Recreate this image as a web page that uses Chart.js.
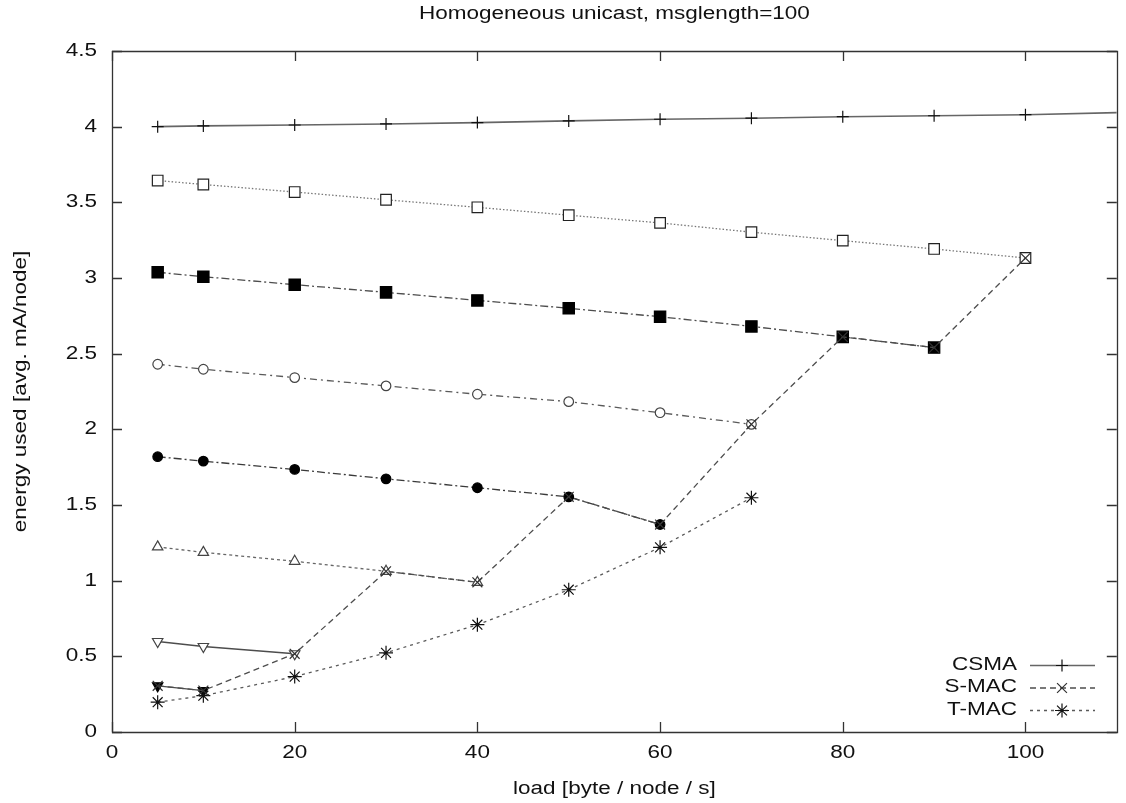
<!DOCTYPE html>
<html>
<head>
<meta charset="utf-8">
<script src="https://cdn.jsdelivr.net/npm/chart.js@4"></script>
<style>
  html, body { margin: 0; padding: 0; background: #fff; }
  #wrap { width: 1126px; height: 803px; }
</style>
</head>
<body>
<div id="wrap"><canvas id="c" width="1126" height="803"></canvas></div>
<script>
// ---- data ----
const chartTitle = 'Homogeneous unicast, msglength=100';
const xTitle = 'load [byte / node / s]';
const yTitle = 'energy used [avg. mA/node]';
const xTicks = [0, 20, 40, 60, 80, 100];
const yTicks = [0, 0.5, 1, 1.5, 2, 2.5, 3, 3.5, 4, 4.5];

const loads = [5, 10, 20, 30, 40, 50, 60, 70, 80, 90, 100];
const csmaLoads = [5, 10, 20, 30, 40, 50, 60, 70, 80, 90, 100, 110];
const csma = [4.000, 4.005, 4.011, 4.018, 4.027, 4.038, 4.049, 4.056, 4.066, 4.072, 4.079, 4.093];
const smac = [0.305, 0.274, 0.517, 1.062, 0.989, 1.554, 1.371, 2.033, 2.611, 2.540, 3.132];
const tmac = [0.197, 0.240, 0.366, 0.523, 0.709, 0.940, 1.220, 1.548];
const openSquares = [3.644, 3.618, 3.568, 3.517, 3.467, 3.415, 3.364, 3.303, 3.247, 3.192, 3.132];
const filledSquares = [3.038, 3.009, 2.956, 2.905, 2.852, 2.800, 2.744, 2.680, 2.611, 2.540];
const openCircles = [2.430, 2.397, 2.342, 2.287, 2.232, 2.183, 2.110, 2.033];
const filledCircles = [1.819, 1.790, 1.735, 1.673, 1.614, 1.554, 1.371];
const openTriangles = [1.223, 1.187, 1.128, 1.062, 0.989];
const openDownTriangles = [0.598, 0.565, 0.517];
const filledDownTriangles = [0.305, 0.274];
const legendLabels = ['CSMA', 'S-MAC', 'T-MAC'];

function pts(xs, ys) { return ys.map((y, i) => ({ x: xs[i], y: y })); }

const FONT = '18px "Liberation Sans", Arial, Helvetica, sans-serif';
const SX = 1.25; // horizontal stretch of the reference's text

function txt(ctx, s, x, y, align, rot) {
  ctx.save();
  ctx.translate(x, y);
  if (rot) ctx.rotate(rot);
  ctx.scale(SX, 1);
  ctx.font = FONT;
  ctx.fillStyle = '#111';
  ctx.textAlign = align;
  ctx.textBaseline = 'middle';
  ctx.fillText(s, 0, 0);
  ctx.restore();
}

const base = { fill: false, tension: 0, borderWidth: 1.3, pointBorderWidth: 1.2 };

const datasets = [
  Object.assign({}, base, { label: 'S-MAC', data: pts(loads, smac), borderColor: '#4d4d4d', borderDash: [6, 4],
    pointStyle: 'crossRot', pointRadius: 7, pointBorderColor: '#333', pointBackgroundColor: '#333' }),
  Object.assign({}, base, { label: 'T-MAC', data: pts(loads, tmac), borderColor: '#5a5a5a', borderDash: [3, 4],
    pointStyle: 'star', pointRadius: 7, pointBorderColor: '#111', pointBackgroundColor: '#111' }),
  Object.assign({}, base, { label: 'CSMA', data: pts(csmaLoads, csma), borderColor: '#666', borderWidth: 1.6,
    pointStyle: 'cross', pointRadius: (c) => (c.raw && c.raw.x > 100 ? 0 : 6),
    pointBorderColor: '#111', pointBackgroundColor: '#111' }),
  Object.assign({}, base, { label: 'openSquares', data: pts(loads, openSquares), borderColor: '#777', borderDash: [1.5, 2],
    pointStyle: 'rect', pointRadius: 7.5, pointBorderColor: '#222', pointBackgroundColor: '#fff' }),
  Object.assign({}, base, { label: 'filledSquares', data: pts(loads, filledSquares), borderColor: '#4d4d4d', borderDash: [8, 3, 2, 3],
    pointStyle: 'rect', pointRadius: 8, pointBorderColor: '#000', pointBackgroundColor: '#000' }),
  Object.assign({}, base, { label: 'openCircles', data: pts(loads, openCircles), borderColor: '#5a5a5a', borderDash: [7, 4, 2, 4],
    pointStyle: 'circle', pointRadius: 4.8, pointBorderColor: '#444', pointBackgroundColor: '#fff' }),
  Object.assign({}, base, { label: 'filledCircles', data: pts(loads, filledCircles), borderColor: '#3a3a3a', borderDash: [8, 3, 2, 3],
    pointStyle: 'circle', pointRadius: 4.8, pointBorderColor: '#000', pointBackgroundColor: '#000' }),
  Object.assign({}, base, { label: 'openTriangles', data: pts(loads, openTriangles), borderColor: '#666', borderDash: [3, 3],
    pointStyle: 'triangle', pointRadius: 6, pointBorderColor: '#444', pointBackgroundColor: '#fff' }),
  Object.assign({}, base, { label: 'openDownTriangles', data: pts(loads, openDownTriangles), borderColor: '#4d4d4d',
    pointStyle: 'triangle', pointRotation: 180, pointRadius: 6, pointBorderColor: '#444', pointBackgroundColor: '#fff' }),
  Object.assign({}, base, { label: 'filledDownTriangles', data: pts(loads, filledDownTriangles), borderColor: '#4d4d4d',
    pointStyle: 'triangle', pointRotation: 180, pointRadius: 6, pointBorderColor: '#000', pointBackgroundColor: '#000' })
];

const frame = {
  id: 'frame',
  beforeDatasetsDraw(chart) {
    const ctx = chart.ctx, a = chart.chartArea;
    const xs = chart.scales.x, ys = chart.scales.y;
    ctx.save();
    ctx.strokeStyle = '#333';
    ctx.lineWidth = 1.3;
    ctx.setLineDash([]);
    ctx.beginPath();
    ctx.rect(Math.round(a.left) + 0.5, Math.round(a.top) + 0.5, Math.round(a.right - a.left), Math.round(a.bottom - a.top));
    ctx.stroke();
    ctx.beginPath();
    ys.ticks.forEach(t => {
      const y = Math.round(ys.getPixelForValue(t.value)) + 0.5;
      ctx.moveTo(a.left, y); ctx.lineTo(a.left + 10, y);
      ctx.moveTo(a.right, y); ctx.lineTo(a.right - 10, y);
    });
    xs.ticks.forEach(t => {
      const x = Math.round(xs.getPixelForValue(t.value)) + 0.5;
      ctx.moveTo(x, a.bottom); ctx.lineTo(x, a.bottom - 10);
      ctx.moveTo(x, a.top); ctx.lineTo(x, a.top + 10);
    });
    ctx.stroke();
    ctx.restore();
  },
  afterDraw(chart) {
    const ctx = chart.ctx, a = chart.chartArea;
    const xs = chart.scales.x, ys = chart.scales.y;
    const cx = (a.left + a.right) / 2;
    txt(ctx, chartTitle, cx, 14, 'center');
    ys.ticks.forEach(t => txt(ctx, String(t.value), a.left - 15, ys.getPixelForValue(t.value), 'right'));
    xs.ticks.forEach(t => txt(ctx, String(t.value), xs.getPixelForValue(t.value), a.bottom + 21, 'center'));
    txt(ctx, xTitle, cx, a.bottom + 57, 'center');
    txt(ctx, yTitle, 21, (a.top + a.bottom) / 2, 'center', -Math.PI / 2);

    // legend (inside, bottom right)
    legendLabels.forEach((lab, i) => {
      const ds = chart.data.datasets.find(d => d.label === lab);
      const y = 665 + i * 22.5;
      txt(ctx, lab, 1017, y, 'right');
      ctx.save();
      ctx.strokeStyle = ds.borderColor;
      ctx.lineWidth = ds.borderWidth;
      ctx.setLineDash(ds.borderDash || []);
      ctx.beginPath();
      ctx.moveTo(1030, y + 0.5); ctx.lineTo(1095, y + 0.5);
      ctx.stroke();
      ctx.setLineDash([]);
      ctx.strokeStyle = ds.pointBorderColor;
      ctx.fillStyle = ds.pointBackgroundColor;
      ctx.lineWidth = ds.pointBorderWidth;
      Chart.helpers.drawPoint(ctx, { pointStyle: ds.pointStyle, rotation: 0, radius: lab === 'CSMA' ? 6 : 7, borderWidth: ds.pointBorderWidth }, 1062, y + 0.5);
      ctx.restore();
    });
  }
};

new Chart(document.getElementById('c'), {
  type: 'line',
  data: { datasets: datasets },
  options: {
    responsive: false,
    animation: false,
    events: [],
    layout: { padding: { top: 51, right: 5, left: 0, bottom: 0 } },
    plugins: { legend: { display: false }, tooltip: { enabled: false }, title: { display: false } },
    scales: {
      x: {
        type: 'linear', min: 0, max: 110,
        grid: { display: false }, border: { display: false },
        ticks: { display: false },
        afterBuildTicks: (s) => { s.ticks = xTicks.map(v => ({ value: v })); },
        afterFit: (s) => { s.height = 71; }
      },
      y: {
        type: 'linear', min: 0, max: 4.5,
        grid: { display: false }, border: { display: false },
        ticks: { display: false },
        afterBuildTicks: (s) => { s.ticks = yTicks.map(v => ({ value: v })); },
        afterFit: (s) => { s.width = 112; }
      }
    }
  },
  plugins: [frame]
});
</script>
</body>
</html>
